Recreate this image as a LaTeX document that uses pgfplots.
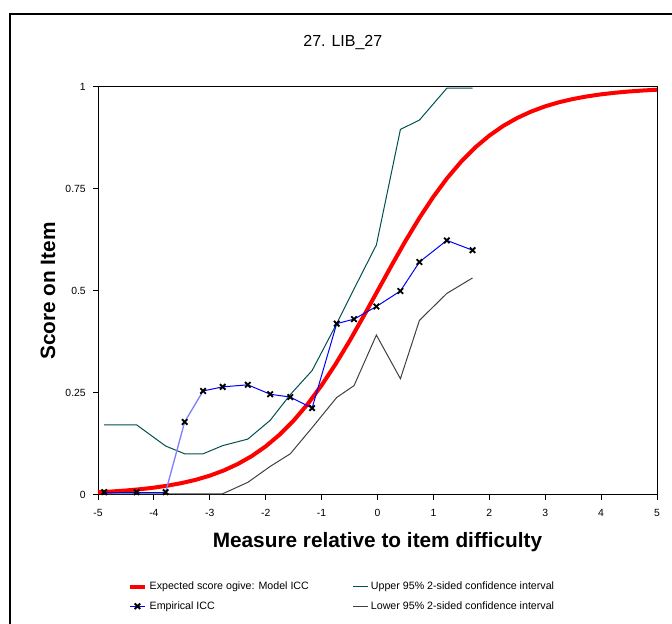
\documentclass[border=0pt]{standalone}
\usepackage{pgfplots}
\pgfplotsset{compat=1.18}
\usepackage{fontspec}
\setmainfont{Liberation Sans}

\definecolor{modelred}{RGB}{255,0,0}
\definecolor{empblue}{RGB}{0,0,255}
\definecolor{emplight}{RGB}{128,128,255}
\definecolor{uppercol}{RGB}{0,80,80}
\definecolor{lowercol}{RGB}{64,64,64}

\begin{document}
\begin{tikzpicture}
\useasboundingbox (0,0) rectangle (504pt,468pt);
% outer chart frame
\begin{scope}
\clip (0,0) rectangle (504pt,468pt);
\draw[line width=1.5pt, line cap=rect] (7.5pt,-5pt) -- (7.5pt,457.5pt) -- (520pt,457.5pt);
\end{scope}
\begin{axis}[
  at={(73.5pt,96.75pt)}, anchor=south west,
  scale only axis, width=419.25pt, height=306pt,
  xmin=-5, xmax=5, ymin=0, ymax=1,
  clip=false,
  xtick={-5,-4,...,5}, ytick={0,0.25,0.5,0.75,1},
  tick align=outside, xtick pos=bottom, ytick pos=left,
  major tick length=3.75pt,
  axis line style={line width=0.75pt},
  every tick/.style={black, line width=0.75pt},
  /pgf/number format/assume math mode=true,
  tick label style={font=\fontsize{7.8}{9}\selectfont},
  yticklabel style={/pgf/number format/fixed, anchor=east, inner sep=0pt, xshift=-5.25pt},
  xticklabel style={anchor=base, inner sep=0pt, yshift=-12.5pt},
  title={27. LIB\_27},
  title style={at={(axis description cs:0.438,1.080)}, anchor=base, font=\fontsize{12}{14}\selectfont, inner sep=0pt},
  xlabel={Measure relative to item difficulty},
  xlabel style={at={(axis description cs:0.5,-0.1275)}, anchor=base, font=\fontsize{15.6}{18}\selectfont\bfseries, inner sep=0pt},
  ylabel={Score on Item},
  ylabel style={at={(axis description cs:-0.0769,0.5)}, anchor=base, font=\fontsize{15.6}{18}\selectfont\bfseries, inner sep=0pt},
  legend columns=2,
  legend cell align=left,
  legend style={at={(axis description cs:0.046,-0.199)}, anchor=north west, draw=none, fill=none,
    font=\fontsize{8}{9.6}\selectfont, row sep=3.4pt,
    /tikz/every even column/.append style={column sep=30.5pt}},
  legend image code/.code={\draw[mark repeat=2, mark phase=2, #1] plot coordinates {(0pt,0pt) (5.6pt,0pt) (11.25pt,0pt)};},
]
% legend entries
\addlegendimage{modelred, line width=3pt, no markers}
\addlegendentry{Expected score ogive: Model ICC}
\addlegendimage{uppercol, line width=0.75pt, no markers}
\addlegendentry{Upper 95\% 2-sided confidence interval}
\addlegendimage{empblue, line width=0.75pt, mark=x, mark size=2.9pt, mark options={black, line width=1.4pt}}
\addlegendentry{Empirical ICC}
\addlegendimage{lowercol, line width=0.75pt, no markers}
\addlegendentry{Lower 95\% 2-sided confidence interval}

% upper 95% confidence band
\addplot[uppercol, line width=0.75pt, forget plot] coordinates {
(-4.89,0.172) (-4.31,0.172) (-3.79,0.120) (-3.45,0.101) (-3.12,0.101)
(-2.77,0.121) (-2.32,0.137) (-1.92,0.183) (-1.56,0.246) (-1.17,0.305)
(-0.73,0.420) (-0.42,0.505) (-0.02,0.613) (0.41,0.896) (0.75,0.919)
(1.24,0.997) (1.70,0.997)};
% lower 95% confidence band
\addplot[lowercol, line width=0.75pt, forget plot] coordinates {
(-4.89,0.003) (-4.31,0.003) (-3.79,0.003) (-3.45,0.003) (-3.12,0.003)
(-2.77,0.003) (-2.32,0.031) (-1.92,0.070) (-1.56,0.101) (-1.17,0.165)
(-0.73,0.239) (-0.42,0.268) (-0.02,0.392) (0.41,0.285) (0.75,0.428)
(1.24,0.494) (1.70,0.532)};
% model ICC (expected score ogive)
\addplot[modelred, line width=3pt, forget plot] coordinates {
(-5,0.0067) (-4.75,0.0086) (-4.5,0.0110) (-4.25,0.0141) (-4,0.0180)
(-3.75,0.0230) (-3.5,0.0293) (-3.25,0.0373) (-3,0.0474) (-2.75,0.0601)
(-2.5,0.0759) (-2.25,0.0953) (-2,0.1192) (-1.75,0.1480) (-1.5,0.1824)
(-1.25,0.2227) (-1,0.2689) (-0.75,0.3208) (-0.5,0.3775) (-0.25,0.4378)
(0,0.5) (0.25,0.5622) (0.5,0.6225) (0.75,0.6792) (1,0.7311)
(1.25,0.7773) (1.5,0.8176) (1.75,0.8520) (2,0.8808) (2.25,0.9047)
(2.5,0.9241) (2.75,0.9399) (3,0.9526) (3.25,0.9627) (3.5,0.9707)
(3.75,0.9770) (4,0.9820) (4.25,0.9859) (4.5,0.9890) (4.75,0.9914) (5,0.9933)};
% empirical ICC
\addplot[empblue, line width=0.75pt, forget plot] coordinates {
(-4.89,0.007) (-4.31,0.007) (-3.79,0.007)};
\addplot[emplight, line width=1pt, forget plot] coordinates {
(-3.79,0.007) (-3.45,0.179) (-3.12,0.255)};
\addplot[empblue, line width=0.75pt, forget plot] coordinates {
(-3.12,0.255) (-2.77,0.265) (-2.32,0.270) (-1.92,0.247) (-1.56,0.240)
(-1.17,0.213) (-0.73,0.420) (-0.42,0.431) (-0.02,0.462) (0.41,0.500)
(0.75,0.571) (1.24,0.624) (1.70,0.600)};
\addplot[only marks, mark=x, mark size=2.9pt, mark options={black, line width=1.4pt}, forget plot] coordinates {
(-4.89,0.007) (-4.31,0.007) (-3.79,0.007) (-3.45,0.179) (-3.12,0.255)
(-2.77,0.265) (-2.32,0.270) (-1.92,0.247) (-1.56,0.240) (-1.17,0.213)
(-0.73,0.420) (-0.42,0.431) (-0.02,0.462) (0.41,0.500) (0.75,0.571)
(1.24,0.624) (1.70,0.600)};
\end{axis}
\end{tikzpicture}
\end{document}
